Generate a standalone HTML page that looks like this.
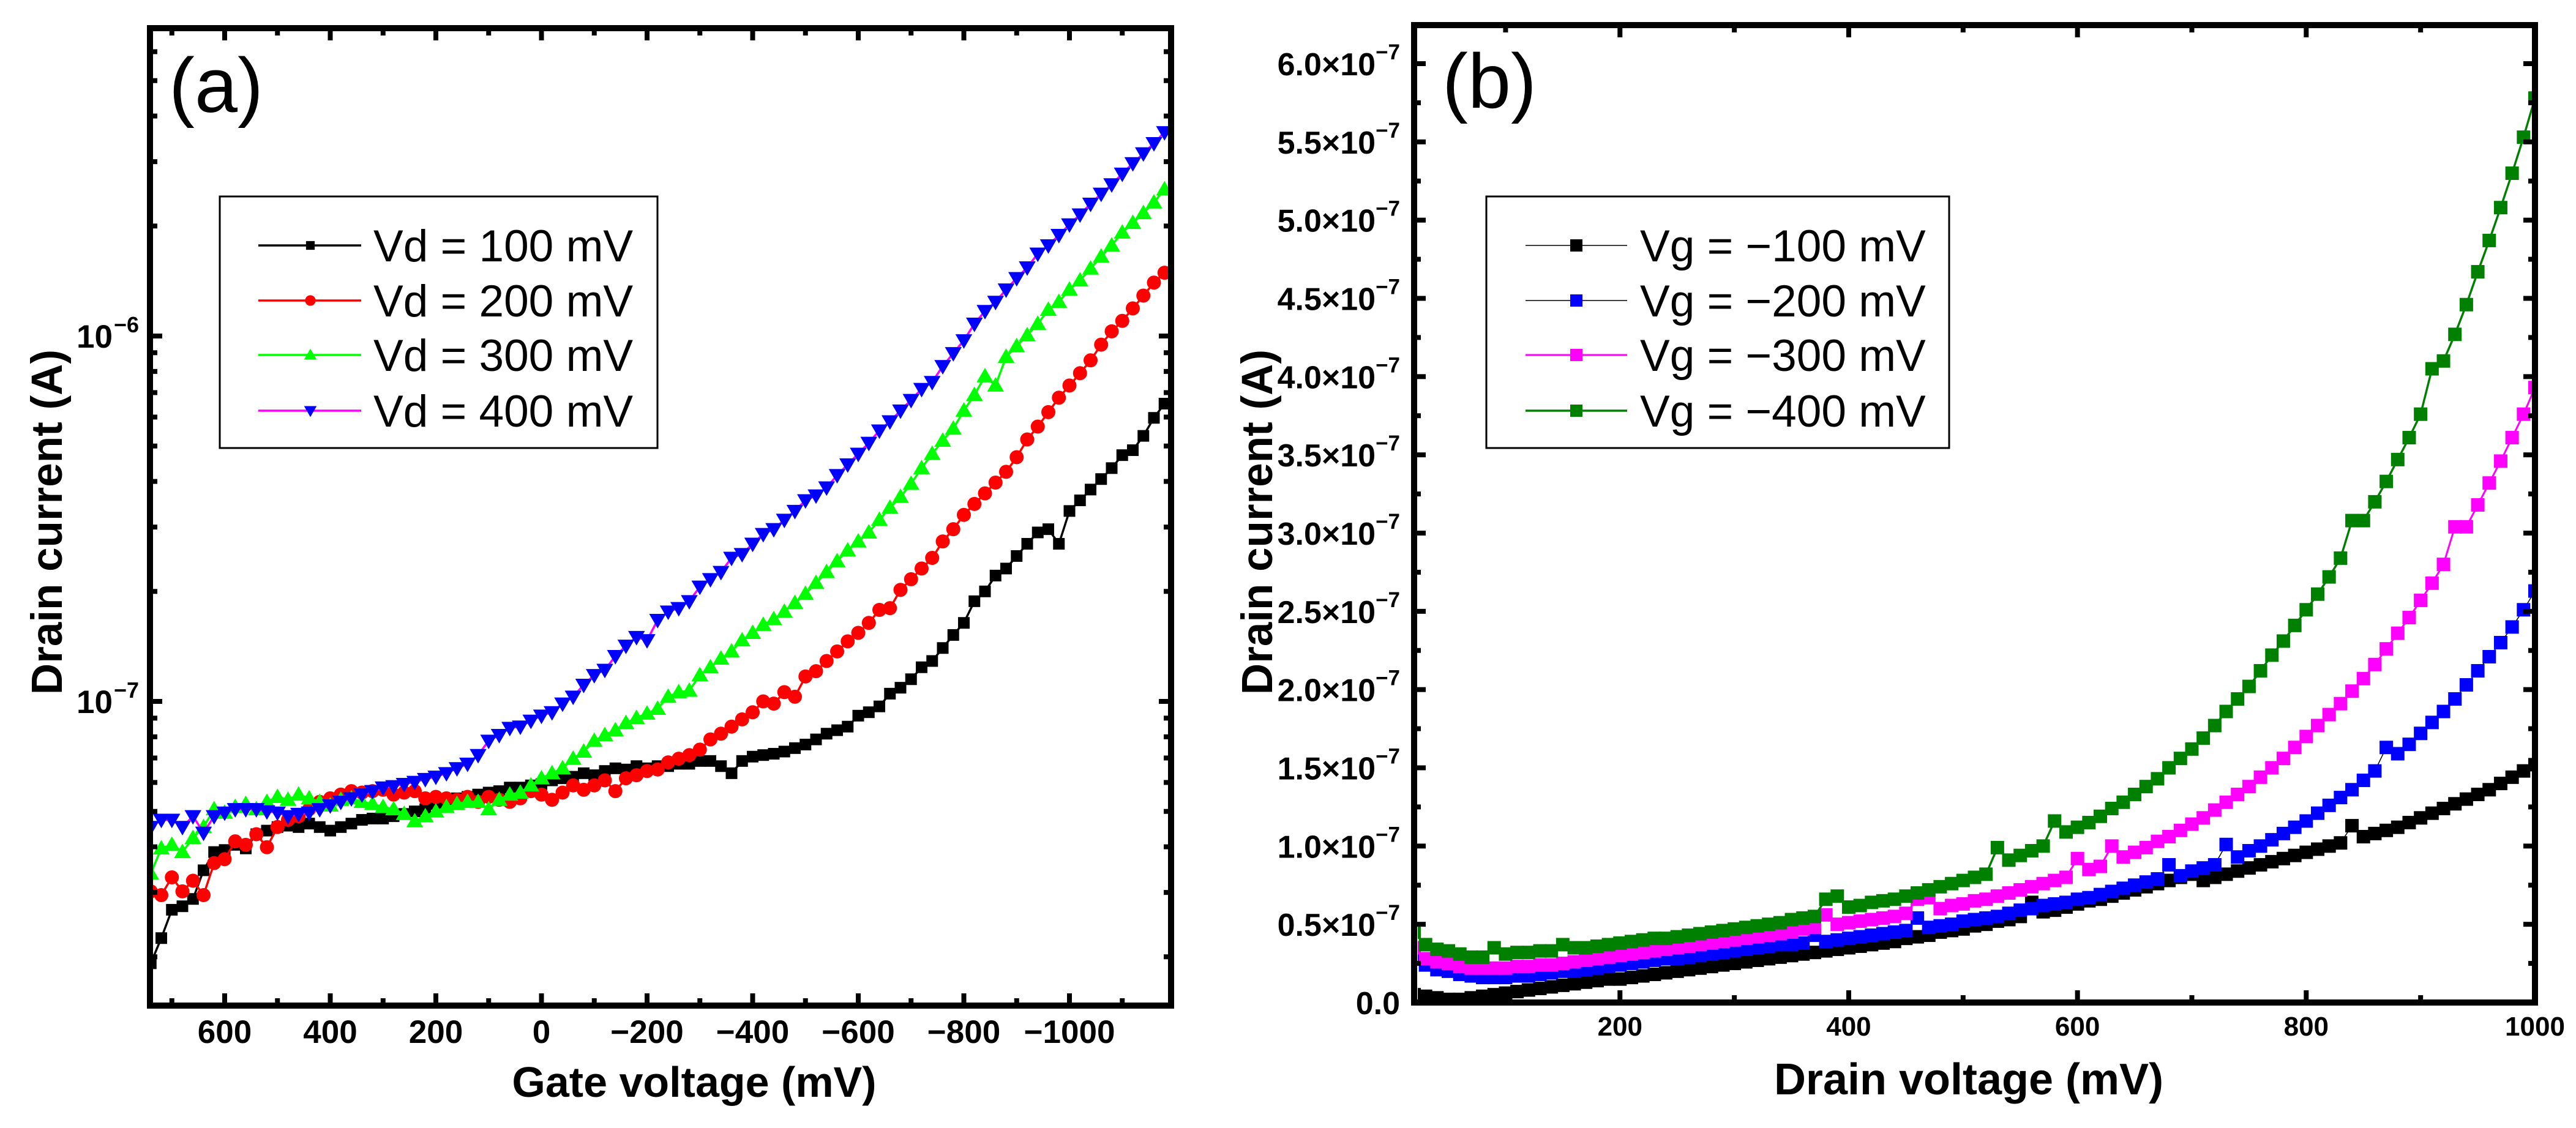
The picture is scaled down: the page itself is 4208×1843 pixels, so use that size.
<!DOCTYPE html>
<html><head><meta charset="utf-8"><style>
html,body{margin:0;padding:0;background:#fff}
svg{display:block}
text{font-family:"Liberation Sans",Arial,sans-serif}
</style></head><body>
<svg id="fig" xmlns="http://www.w3.org/2000/svg" width="4208" height="1843" viewBox="0 0 4208 1843">
<defs>
<clipPath id="clipA"><rect x="250" y="51" width="1658" height="1588"/></clipPath>
<clipPath id="clipB"><rect x="2316" y="46" width="1820" height="1587"/></clipPath>
</defs>
<g id="panelA"></g>
<g id="panelB"></g>
</svg>
<script>
// ---------- Panel (a) data: gate voltage (mV) vs drain current (units of 1e-7 A)
const gateVoltage = [740,720,700,680,660,640,620,600,580,560,540,520,500,480,460,440,420,400,380,360,340,320,300,280,260,240,220,200,180,160,140,120,100,80,60,40,20,0,-20,-40,-60,-80,-100,-120,-140,-160,-180,-200,-220,-240,-260,-280,-300,-320,-340,-360,-380,-400,-420,-440,-460,-480,-500,-520,-540,-560,-580,-600,-620,-640,-660,-680,-700,-720,-740,-760,-780,-800,-820,-840,-860,-880,-900,-920,-940,-960,-980,-1000,-1020,-1040,-1060,-1080,-1100,-1120,-1140,-1160,-1180];
const idVd100 = [0.192,0.225,0.269,0.275,0.288,0.345,0.387,0.392,0.405,0.396,0.433,0.443,0.453,0.457,0.453,0.463,0.453,0.443,0.453,0.463,0.474,0.478,0.478,0.485,0.492,0.500,0.507,0.524,0.531,0.543,0.548,0.556,0.563,0.568,0.581,0.581,0.589,0.594,0.608,0.616,0.622,0.636,0.628,0.645,0.656,0.651,0.665,0.656,0.665,0.665,0.675,0.675,0.687,0.687,0.665,0.636,0.687,0.706,0.713,0.719,0.729,0.745,0.762,0.787,0.816,0.834,0.853,0.914,0.934,0.969,1.05,1.09,1.15,1.24,1.29,1.40,1.52,1.64,1.88,2.00,2.21,2.31,2.50,2.70,2.90,2.96,2.70,3.32,3.55,3.80,4.06,4.35,4.72,4.87,5.33,5.97,6.53];
const idVd200 = [0.302,0.295,0.330,0.302,0.323,0.295,0.361,0.370,0.414,0.405,0.433,0.399,0.453,0.474,0.485,0.507,0.531,0.543,0.556,0.568,0.563,0.568,0.573,0.556,0.563,0.568,0.543,0.548,0.543,0.538,0.548,0.531,0.548,0.538,0.531,0.543,0.568,0.556,0.538,0.563,0.589,0.573,0.589,0.608,0.568,0.616,0.628,0.645,0.651,0.681,0.697,0.713,0.738,0.787,0.816,0.853,0.893,0.934,1.0,0.986,1.06,1.03,1.17,1.21,1.29,1.37,1.46,1.54,1.64,1.78,1.80,2.02,2.16,2.31,2.47,2.74,2.96,3.24,3.47,3.71,3.97,4.25,4.66,5.21,5.65,6.19,6.78,7.32,7.91,8.58,9.47,10.3,11.0,11.9,12.9,14.0,14.9];
const idVd300 = [0.338,0.396,0.405,0.387,0.423,0.453,0.507,0.496,0.514,0.524,0.507,0.531,0.548,0.538,0.556,0.543,0.531,0.519,0.538,0.543,0.531,0.524,0.514,0.507,0.492,0.470,0.485,0.500,0.514,0.524,0.531,0.531,0.507,0.538,0.556,0.563,0.589,0.616,0.636,0.656,0.697,0.729,0.780,0.809,0.834,0.873,0.901,0.926,0.955,1.03,1.06,1.07,1.18,1.24,1.31,1.37,1.47,1.54,1.62,1.68,1.76,1.86,1.97,2.11,2.26,2.42,2.59,2.74,2.90,3.14,3.39,3.63,3.94,4.35,4.76,5.17,5.58,6.25,6.90,7.76,7.32,8.77,9.38,10.05,10.8,11.8,12.4,13.4,14.2,15.3,16.5,17.7,19.2,20.4,21.7,23.2,25.2];
const idVd400 = [0.453,0.474,0.474,0.453,0.485,0.437,0.485,0.496,0.507,0.507,0.507,0.500,0.496,0.485,0.492,0.496,0.507,0.519,0.531,0.543,0.556,0.568,0.581,0.586,0.594,0.602,0.613,0.622,0.636,0.656,0.675,0.713,0.780,0.809,0.846,0.853,0.885,0.914,0.934,0.986,1.03,1.11,1.18,1.22,1.33,1.42,1.50,1.47,1.67,1.76,1.80,1.88,2.06,2.16,2.26,2.47,2.53,2.70,2.87,2.96,3.14,3.32,3.55,3.66,3.85,4.16,4.45,4.76,5.10,5.51,5.84,6.25,6.68,7.16,7.48,8.27,8.97,9.73,10.8,11.7,12.4,13.4,14.4,15.4,16.8,17.7,18.9,20.2,21.5,23.0,24.5,26.0,27.8,29.7,31.6,33.7,36.1];
const xTicksA = [600,400,200,0,-200,-400,-600,-800,-1000];
const xTickLabelsA = ["600","400","200","0","\u2212200","\u2212400","\u2212600","\u2212800","\u22121000"];
const yDecadesA = [-7,-6];
const legendA = ["Vd = 100 mV","Vd = 200 mV","Vd = 300 mV","Vd = 400 mV"];

// ---------- Panel (b) data: drain voltage (mV) vs drain current (units of 1e-7 A)
const drainVoltage = [20,30,40,50,60,70,80,90,100,110,120,130,140,150,160,170,180,190,200,210,220,230,240,250,260,270,280,290,300,310,320,330,340,350,360,370,380,390,400,410,420,430,440,450,460,470,480,490,500,510,520,530,540,550,560,570,580,590,600,610,620,630,640,650,660,670,680,690,700,710,720,730,740,750,760,770,780,790,800,810,820,830,840,850,860,870,880,890,900,910,920,930,940,950,960,970,980,990,1000];
const idVg100 = [0.05,0.04,0.03,0.02,0.02,0.03,0.04,0.05,0.06,0.07,0.08,0.09,0.10,0.11,0.12,0.13,0.14,0.15,0.15,0.16,0.17,0.18,0.19,0.20,0.21,0.22,0.23,0.24,0.25,0.26,0.27,0.28,0.29,0.30,0.31,0.32,0.33,0.34,0.35,0.36,0.37,0.38,0.39,0.41,0.42,0.43,0.45,0.46,0.47,0.49,0.50,0.52,0.53,0.55,0.64,0.58,0.59,0.61,0.63,0.65,0.66,0.68,0.70,0.72,0.74,0.76,0.78,0.80,0.82,0.78,0.80,0.82,0.84,0.86,0.88,0.90,0.92,0.94,0.96,0.98,1.00,1.02,1.13,1.06,1.08,1.10,1.12,1.15,1.18,1.21,1.24,1.27,1.30,1.33,1.36,1.40,1.44,1.48,1.52];
const idVg200 = [0.30,0.24,0.21,0.20,0.18,0.17,0.16,0.16,0.16,0.17,0.17,0.18,0.19,0.20,0.20,0.21,0.22,0.23,0.24,0.25,0.26,0.27,0.28,0.28,0.29,0.30,0.31,0.32,0.33,0.34,0.35,0.36,0.37,0.37,0.38,0.43,0.39,0.40,0.41,0.42,0.43,0.44,0.45,0.46,0.54,0.48,0.49,0.50,0.52,0.53,0.54,0.55,0.57,0.59,0.60,0.62,0.63,0.64,0.66,0.67,0.69,0.71,0.73,0.75,0.77,0.79,0.88,0.81,0.84,0.86,0.88,1.01,0.93,0.97,1.00,1.04,1.08,1.12,1.16,1.21,1.26,1.31,1.36,1.42,1.48,1.63,1.59,1.65,1.72,1.79,1.86,1.94,2.03,2.12,2.21,2.30,2.40,2.51,2.63];
const idVg300 = [0.35,0.28,0.26,0.25,0.23,0.22,0.22,0.22,0.22,0.23,0.23,0.24,0.24,0.25,0.26,0.27,0.28,0.29,0.30,0.31,0.32,0.33,0.34,0.35,0.36,0.37,0.38,0.39,0.40,0.41,0.42,0.43,0.44,0.45,0.47,0.48,0.56,0.50,0.51,0.52,0.53,0.54,0.55,0.57,0.66,0.67,0.60,0.62,0.63,0.65,0.66,0.68,0.70,0.72,0.74,0.76,0.78,0.80,0.92,0.85,0.87,1.00,0.93,0.96,0.99,1.03,1.06,1.10,1.14,1.18,1.23,1.28,1.33,1.38,1.44,1.50,1.56,1.63,1.70,1.77,1.84,1.91,1.99,2.07,2.16,2.26,2.36,2.46,2.57,2.68,2.80,3.04,3.04,3.18,3.32,3.46,3.61,3.76,3.93];
const idVg400 = [0.45,0.37,0.34,0.33,0.31,0.29,0.29,0.35,0.31,0.32,0.32,0.33,0.33,0.37,0.35,0.35,0.36,0.37,0.38,0.39,0.40,0.41,0.41,0.42,0.43,0.44,0.45,0.46,0.47,0.48,0.49,0.50,0.51,0.53,0.54,0.55,0.66,0.68,0.61,0.62,0.64,0.65,0.66,0.68,0.70,0.72,0.74,0.76,0.78,0.80,0.82,0.99,0.91,0.94,0.97,1.00,1.16,1.09,1.12,1.15,1.19,1.24,1.28,1.33,1.38,1.43,1.50,1.56,1.62,1.69,1.77,1.86,1.94,2.02,2.12,2.22,2.31,2.41,2.51,2.61,2.72,2.84,3.08,3.08,3.20,3.33,3.47,3.61,3.76,4.05,4.10,4.27,4.46,4.67,4.87,5.08,5.30,5.53,5.78];
const xTicksB = [200,400,600,800,1000];
const yTicksB = [0,0.5,1.0,1.5,2.0,2.5,3.0,3.5,4.0,4.5,5.0,5.5,6.0];
const yTickLabelsB = ["0.0","0.5","1.0","1.5","2.0","2.5","3.0","3.5","4.0","4.5","5.0","5.5","6.0"];
const legendB = ["Vg = \u2212100 mV","Vg = \u2212200 mV","Vg = \u2212300 mV","Vg = \u2212400 mV"];

const NS="http://www.w3.org/2000/svg";
function mk(tag, parent, attrs){const e=document.createElementNS(NS,tag);for(const k in attrs)e.setAttribute(k,attrs[k]);parent.appendChild(e);return e;}

// axis functions
const A={l:245,r:1913,t:46,b:1643};
function xA(v){return 367+(600-v)*0.8625;}
function yA(v){return 549-597*(Math.log10(v*1e-7)+6);}
const B={l:2310,r:4141,t:41,b:1638};
function xB(v){return 4141-(1000-v)*1.8684;}
function yB(v){return 1638-v*(1638-104)/6.0;}

function marker(g, shape, x, y, s, color){
  let e;
  if(shape==='square'){e=mk('rect',g,{x:x-s/2,y:y-s/2,width:s,height:s,fill:color});}
  else if(shape==='circle'){e=mk('circle',g,{cx:x,cy:y,r:s/2,fill:color});}
  else if(shape==='up'){e=mk('polygon',g,{points:`${x},${y-s*0.55} ${x-s*0.55},${y+s*0.4} ${x+s*0.55},${y+s*0.4}`,fill:color});}
  else {e=mk('polygon',g,{points:`${x},${y+s*0.55} ${x-s*0.55},${y-s*0.4} ${x+s*0.55},${y-s*0.4}`,fill:color});}
  return e;
}

// ================= PANEL A =================
const pa=document.getElementById('panelA');
const seriesA=[
  {y:idVd100,line:'#000',mk:'#000',shape:'square',s:19,name:'series-vd-100'},
  {y:idVd200,line:'#ff0000',mk:'#ff0000',shape:'circle',s:23,name:'series-vd-200'},
  {y:idVd300,line:'#00ff00',mk:'#00ff00',shape:'up',s:25,name:'series-vd-300'},
  {y:idVd400,line:'#ff00ff',mk:'#0000ff',shape:'down',s:25,name:'series-vd-400'}
];
const dataA=mk('g',pa,{'clip-path':'url(#clipA)'});


seriesA.forEach(sr=>{
  const g=mk('g',dataA,{});
  
  
  const pts=gateVoltage.map((v,i)=>xA(v).toFixed(1)+','+yA(sr.y[i]).toFixed(1)).join(' ');
  const pl=mk('polyline',g,{points:pts,fill:'none',stroke:sr.line,'stroke-width':3.5});
  
  
  gateVoltage.forEach((v,i)=>{
    const m=marker(g,sr.shape,xA(v),yA(sr.y[i]),sr.s,sr.mk);
    
    
  });
});
const frA=mk('rect',pa,{x:245,y:46,width:1668,height:1597,fill:'none',stroke:'#000','stroke-width':10});


for(let v=700; v>=-1100; v-=100){
  const major = xTicksA.indexOf(v)>=0;
  const L = major?15:7;
  const x=xA(v);
  const t1=mk('line',pa,{x1:x,x2:x,y1:A.b-5,y2:A.b-5-L,stroke:'#000','stroke-width':8});
  
  
  const t2=mk('line',pa,{x1:x,x2:x,y1:A.t+5,y2:A.t+5+L,stroke:'#000','stroke-width':8});
  
  
}
xTicksA.forEach((v,i)=>{
  const t=mk('text',pa,{x:xA(v),y:1704,'font-size':53,'font-weight':'bold','text-anchor':'middle'});
  t.textContent=xTickLabelsA[i];
  
  
});
for(let d=-8; d<=-6; d++){
  for(let k=1;k<=9;k++){
    const val=k*Math.pow(10,d)/1e-7;
    const y=yA(val);
    if(y<A.t+6||y>A.b-6) continue;
    const L=(k===1)?15:7;
    const t1=mk('line',pa,{x1:A.l+5,x2:A.l+5+L,y1:y,y2:y,stroke:'#000','stroke-width':8});
    
    
    const t2=mk('line',pa,{x1:A.r-5,x2:A.r-5-L,y1:y,y2:y,stroke:'#000','stroke-width':8});
    
    
  }
}
yDecadesA.forEach(d=>{
  const y=yA(Math.pow(10,d)/1e-7);
  const t=mk('text',pa,{x:184,y:y+19,'font-size':53,'font-weight':'bold','text-anchor':'end'});
  t.textContent='10';
  
  
  const s=mk('text',pa,{x:186,y:y-6,'font-size':36,'font-weight':'bold','text-anchor':'start'});
  s.textContent='\u2212'+Math.abs(d);
  
  
});
const xtA=mk('text',pa,{x:1134,y:1792,'font-size':70,'font-weight':'bold','text-anchor':'middle'});
xtA.textContent='Gate voltage (mV)';


const ytA=mk('text',pa,{x:0,y:0,'font-size':71,'font-weight':'bold','text-anchor':'middle',transform:'translate(101,853) rotate(-90)'});
ytA.textContent='Drain current (A)';


const plA=mk('text',pa,{x:276,y:183,'font-size':126});
plA.textContent='(a)';


const lgA=mk('g',pa,{});


mk('rect',lgA,{x:359,y:321,width:715,height:411,fill:'#fff',stroke:'#000','stroke-width':3});
[401,491,580,671].forEach((y,i)=>{
  const sr=seriesA[i];
  const ge=mk('g',lgA,{});
  
  
  mk('line',ge,{x1:422,x2:590,y1:y,y2:y,stroke:sr.line,'stroke-width':3.5});
  marker(ge,sr.shape,507,y,sr.s*0.75,sr.mk);
  const t=mk('text',ge,{x:610,y:y+26,'font-size':73});
  t.textContent=legendA[i];
});

// ================= PANEL B =================
const pb=document.getElementById('panelB');
const seriesB=[
  {y:idVg100,line:'#000',mk:'#000',w:1.5,name:'series-vg-100'},
  {y:idVg200,line:'#000',mk:'#0000ff',w:1.5,name:'series-vg-200'},
  {y:idVg300,line:'#ff00ff',mk:'#ff00ff',w:3,name:'series-vg-300'},
  {y:idVg400,line:'#008000',mk:'#008000',w:3.5,name:'series-vg-400'}
];
const dataB=mk('g',pb,{'clip-path':'url(#clipB)'});


seriesB.forEach(sr=>{
  const g=mk('g',dataB,{});
  
  
  const pts=drainVoltage.map((v,i)=>xB(v).toFixed(1)+','+yB(sr.y[i]).toFixed(1)).join(' ');
  const pl=mk('polyline',g,{points:pts,fill:'none',stroke:sr.line,'stroke-width':sr.w});
  
  
  drainVoltage.forEach((v,i)=>{
    const m=marker(g,'square',xB(v),yB(sr.y[i]),22,sr.mk);
    
    
  });
});
const frB=mk('rect',pb,{x:2310,y:41,width:1831,height:1597,fill:'none',stroke:'#000','stroke-width':10});


for(let v=100; v<=900; v+=100){
  const major = xTicksB.indexOf(v)>=0;
  const L = major?15:7;
  const x=xB(v);
  const t1=mk('line',pb,{x1:x,x2:x,y1:B.b-5,y2:B.b-5-L,stroke:'#000','stroke-width':8});
  
  
  const t2=mk('line',pb,{x1:x,x2:x,y1:B.t+5,y2:B.t+5+L,stroke:'#000','stroke-width':8});
  
  
}
xTicksB.forEach(v=>{
  const t=mk('text',pb,{x:xB(v),y:1692,'font-size':44,'font-weight':'bold','text-anchor':'middle'});
  t.textContent=String(v);
  
  
});
for(let k=1;k<=24;k++){
  const val=k*0.25;
  const y=yB(val);
  if(y<B.t+6) continue;
  const major=(k%2===0);
  const L=major?14:6;
  const t1=mk('line',pb,{x1:B.l+5,x2:B.l+5+L,y1:y,y2:y,stroke:'#000','stroke-width':8});
  
  
  const t2=mk('line',pb,{x1:B.r-5,x2:B.r-5-L,y1:y,y2:y,stroke:'#000','stroke-width':8});
  
  
}
yTicksB.forEach((v,i)=>{
  const y=yB(v);
  const t=mk('text',pb,{x:2287,y:y+19,'font-size':52,'font-weight':'bold','text-anchor':'end'});
  if(v===0){ t.textContent=yTickLabelsB[i]; }
  else {
    t.textContent=yTickLabelsB[i]+'\u00d710';
    const s=mk('tspan',t,{dy:-26,'font-size':35});
    s.textContent='\u22127';
  }
  
  
});
const xtB=mk('text',pb,{x:3216,y:1788,'font-size':72,'font-weight':'bold','text-anchor':'middle'});
xtB.textContent='Drain voltage (mV)';


const ytB=mk('text',pb,{x:0,y:0,'font-size':71,'font-weight':'bold','text-anchor':'middle',transform:'translate(2078,853) rotate(-90)'});
ytB.textContent='Drain current (A)';


const plB=mk('text',pb,{x:2356,y:176,'font-size':126});
plB.textContent='(b)';


const lgB=mk('g',pb,{});


mk('rect',lgB,{x:2428,y:321,width:756,height:411,fill:'#fff',stroke:'#000','stroke-width':3});
[401,491,580,671].forEach((y,i)=>{
  const sr=seriesB[i];
  const ge=mk('g',lgB,{});
  
  
  mk('line',ge,{x1:2492,x2:2658,y1:y,y2:y,stroke:sr.line,'stroke-width':sr.w});
  marker(ge,'square',2575,y,20,sr.mk);
  const t=mk('text',ge,{x:2679,y:y+26,'font-size':73});
  t.textContent=legendB[i];
});
</script>
</body></html>
